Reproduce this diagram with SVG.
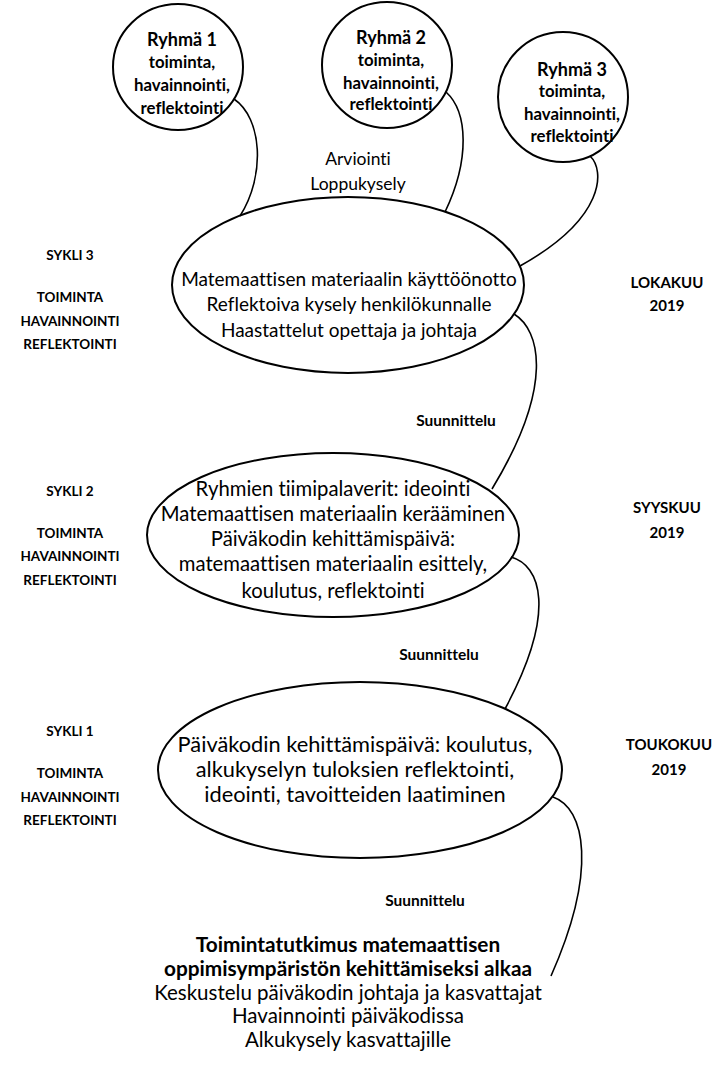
<svg xmlns="http://www.w3.org/2000/svg" width="726" height="1066" viewBox="0 0 726 1066">
<style>
.shape{fill:none;stroke:#000;stroke-width:2}
.conn{fill:none;stroke:#000;stroke-width:1.6}
text{font-family:Lato,"Open Sans","Liberation Sans",sans-serif;fill:#000;text-anchor:middle;font-variant-ligatures:none;font-feature-settings:"liga" 0,"dlig" 0}
.b19{font-size:19px}
.b20{font-size:20.3px}
.b21{font-size:21.8px}
.arv{font-size:17.5px}
.side{font-size:13.5px;font-weight:bold}
.grp{font-size:16.8px;font-weight:bold}
.grph{font-size:18px;font-weight:bold}
.month{font-size:15px;font-weight:bold}
.plan{font-size:15.5px;font-weight:bold}
.start{font-size:20.8px;font-weight:bold}
.startr{font-size:20.5px}
</style>
<rect width="726" height="1066" fill="#fff"/>
<g id="connectors">
<path class="conn" d="M234 99 C262 118 266 175 240 216"/>
<path class="conn" d="M446 92 C468 112 470 160 445 212"/>
<path class="conn" d="M590 156 C605 170 606 218 520 266"/>
<path class="conn" d="M514 314 C540 330 555 385 492 489"/>
<path class="conn" d="M511 557 C540 565 558 610 505 709"/>
<path class="conn" d="M553 797 C585 808 598 870 551 976"/>
</g>
<g id="ryhma1">
<ellipse class="shape" cx="178" cy="67" rx="65" ry="63"/>
<text class="grph" x="182" y="46">Ryhmä 1</text>
<text class="grp" x="182" y="68">toiminta,</text>
<text class="grp" x="182" y="91">havainnointi,</text>
<text class="grp" x="182" y="114">reflektointi</text>
</g>
<g id="ryhma2">
<ellipse class="shape" cx="387" cy="65" rx="65" ry="63"/>
<text class="grph" x="391" y="44">Ryhmä 2</text>
<text class="grp" x="391" y="66">toiminta,</text>
<text class="grp" x="391" y="89">havainnointi,</text>
<text class="grp" x="391" y="110">reflektointi</text>
</g>
<g id="ryhma3">
<ellipse class="shape" cx="563" cy="97" rx="65" ry="65"/>
<text class="grph" x="572" y="76">Ryhmä 3</text>
<text class="grp" x="572" y="97">toiminta,</text>
<text class="grp" x="572" y="120">havainnointi,</text>
<text class="grp" x="572" y="142">reflektointi</text>
</g>
<g id="arviointi">
<text class="arv" x="358" y="165">Arviointi</text>
<text class="arv" x="358" y="190">Loppukysely</text>
</g>
<g id="sykli3">
<ellipse class="shape" cx="348" cy="285" rx="176" ry="88"/>
<text class="b19" x="349" y="286">Matemaattisen materiaalin käyttöönotto</text>
<text class="b19" x="349" y="311">Reflektoiva kysely henkilökunnalle</text>
<text class="b19" x="349" y="337">Haastattelut opettaja ja johtaja</text>
</g>
<g id="sykli2">
<ellipse class="shape" cx="333" cy="535" rx="186" ry="82"/>
<text class="b20" x="333" y="496">Ryhmien tiimipalaverit: ideointi</text>
<text class="b20" x="333" y="521">Matemaattisen materiaalin kerääminen</text>
<text class="b20" x="333" y="546">Päiväkodin kehittämispäivä:</text>
<text class="b20" x="333" y="571">matemaattisen materiaalin esittely,</text>
<text class="b20" x="333" y="598">koulutus, reflektointi</text>
</g>
<g id="sykli1">
<ellipse class="shape" cx="360" cy="770" rx="202" ry="88"/>
<text class="b21" x="355" y="752">Päiväkodin kehittämispäivä: koulutus,</text>
<text class="b21" x="355" y="777">alkukyselyn tuloksien reflektointi,</text>
<text class="b21" x="355" y="802">ideointi, tavoitteiden laatiminen</text>
</g>
<g id="labels-left">
<text class="side" x="70" y="260">SYKLI 3</text>
<text class="side" x="70" y="302">TOIMINTA</text>
<text class="side" x="70" y="326">HAVAINNOINTI</text>
<text class="side" x="70" y="349">REFLEKTOINTI</text>
<text class="side" x="70" y="496">SYKLI 2</text>
<text class="side" x="70" y="538">TOIMINTA</text>
<text class="side" x="70" y="561">HAVAINNOINTI</text>
<text class="side" x="70" y="585">REFLEKTOINTI</text>
<text class="side" x="70" y="736">SYKLI 1</text>
<text class="side" x="70" y="778">TOIMINTA</text>
<text class="side" x="70" y="802">HAVAINNOINTI</text>
<text class="side" x="70" y="825">REFLEKTOINTI</text>
</g>
<g id="labels-right">
<text class="month" x="667" y="288">LOKAKUU</text>
<text class="month" x="667" y="311">2019</text>
<text class="month" x="667" y="513">SYYSKUU</text>
<text class="month" x="667" y="538">2019</text>
<text class="month" x="669" y="750">TOUKOKUU</text>
<text class="month" x="669" y="775">2019</text>
</g>
<g id="suunnittelu">
<text class="plan" x="456" y="426">Suunnittelu</text>
<text class="plan" x="439" y="660">Suunnittelu</text>
<text class="plan" x="425" y="906">Suunnittelu</text>
</g>
<g id="alku">
<text class="start" x="348" y="952">Toimintatutkimus matemaattisen</text>
<text class="start" x="348" y="976">oppimisympäristön kehittämiseksi alkaa</text>
<text class="startr" x="348" y="1000">Keskustelu päiväkodin johtaja ja kasvattajat</text>
<text class="startr" x="348" y="1023">Havainnointi päiväkodissa</text>
<text class="startr" x="348" y="1047">Alkukysely kasvattajille</text>
</g>
</svg>
